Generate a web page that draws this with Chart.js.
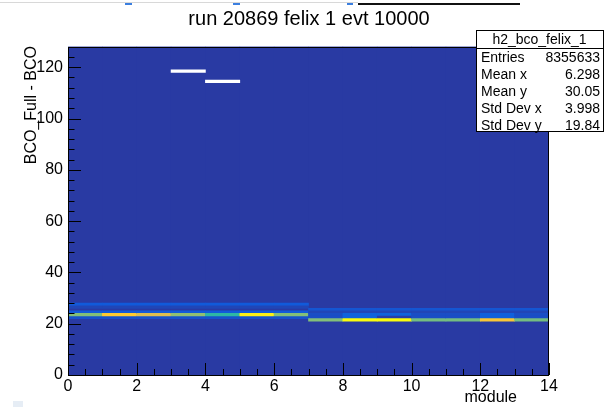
<!DOCTYPE html>
<html><head><meta charset="utf-8">
<script src="https://cdn.jsdelivr.net/npm/chart.js@4/dist/chart.umd.min.js"></script>
<style>html,body{margin:0;padding:0;background:#fff;}#wrap{position:relative;width:608px;height:407px;}</style>
</head><body><div id="wrap"><canvas id="c" width="608" height="407"></canvas></div>
<script>
// ---- data ----
const modules = [0,1,2,3,4,5,6,7,8,9,10,11,12,13];
const yMaxBin = 128;
const backgroundLevel = 0.04;
const modulesA = [0,1,2,3,4,5,6];
const modulesB = [7,8,9,10,11,12,13];
const peakBinA = 23;
const peakLevelsA = [0.62,0.88,0.78,0.64,0.50,0.97,0.62];
const peakBinB = 21;
const peakLevelsB = [0.62,1.00,1.00,0.60,0.60,0.86,0.60];
const sideBinsA = [27,26,24,22];
const sideLevelsA = [0.12,0.07,0.12,0.10];
const sideBinsB = [25,24];
const sideLevelsB = [0.11,0.07];
const nearLevelsB23 = [0.09,0.15,0.15,0.09,0.09,0.14,0.09];
const nearLevelsB22 = [0.09,0.15,0.05,0.09,0.09,0.14,0.09];
const emptyModules = [3,4];
const emptyBins = [118,114];
const xTickLabels = [0,2,4,6,8,10,12,14];
const yTickLabels = [0,20,40,60,80,100,120];
const statNames = ['Entries','Mean x','Mean y','Std Dev x','Std Dev y'];
const statValues = ['8355633','6.298','30.05','3.998','19.84'];
const histName = 'h2_bco_felix_1';
const titleText = 'run 20869 felix 1 evt 10000';

// ---- palette (ROOT kBird) ----
const bird = [[53,42,135],[15,92,221],[20,129,214],[6,164,202],[46,183,164],[135,191,119],[209,187,89],[254,200,50],[249,251,14]];
function birdColor(z){
  const t = Math.max(0,Math.min(1,z))*8;
  const i = Math.min(7,Math.floor(t)); const f = t-i;
  const a = bird[i], b = bird[i+1];
  return 'rgb('+[0,1,2].map(k=>Math.round(a[k]+(b[k]-a[k])*f)).join(',')+')';
}

// ---- cells ----
const cells = [];
function addCell(m,bin,z){ cells.push({x:m+0.5, y:[bin,bin+1], z:z}); }
modulesA.forEach((m,i)=>{
  sideBinsA.forEach((b,j)=>addCell(m,b,sideLevelsA[j]));
  addCell(m,peakBinA,peakLevelsA[i]);
});
modulesB.forEach((m,i)=>{
  sideBinsB.forEach((b,j)=>addCell(m,b,sideLevelsB[j]));
  addCell(m,23,nearLevelsB23[i]);
  addCell(m,22,nearLevelsB22[i]);
  addCell(m,peakBinB,peakLevelsB[i]);
});

const decor = {
  id:'decor',
  beforeDatasetsDraw(chart){
    const ctx = chart.ctx, a = chart.chartArea;
    ctx.save();
    ctx.fillStyle = birdColor(backgroundLevel);
    ctx.fillRect(a.left, a.top, a.right-a.left, a.bottom-a.top);
    ctx.restore();
  },
  afterDraw(chart){
    const ctx = chart.ctx, a = chart.chartArea, xs = chart.scales.x, ys = chart.scales.y;
    ctx.save();
    // frame
    ctx.strokeStyle = '#000'; ctx.lineWidth = 1;
    ctx.strokeRect(Math.round(a.left)+0.5, Math.round(a.top)+0.5, Math.round(a.right-a.left)-1, Math.round(a.bottom-a.top));
    // inside ticks
    ctx.beginPath();
    for (let v=0; v<=yMaxBin; v+=4){
      const y = Math.round(ys.getPixelForValue(v))+0.5;
      const len = (v%20===0)?13:6.5;
      ctx.moveTo(a.left, y); ctx.lineTo(a.left+len, y);
    }
    for (let v=0; v<=14.001; v+=0.5){
      const x = Math.round(xs.getPixelForValue(v))+0.5;
      const len = (Math.abs(v%2)<1e-6)?12:6;
      ctx.moveTo(x, a.bottom); ctx.lineTo(x, a.bottom-len);
    }
    ctx.stroke();
    // axis titles
    ctx.fillStyle = '#000';
    ctx.font = '16px "Liberation Sans", Arial, sans-serif';
    ctx.textAlign = 'right'; ctx.textBaseline = 'middle';
    ctx.fillText('module', 517, 398);
    ctx.save();
    ctx.translate(32, 46); ctx.rotate(-Math.PI/2);
    ctx.textAlign = 'right'; ctx.fillText('BCO_Full - BCO', 0, 0);
    ctx.restore();
    // title
    ctx.font = '20px "Liberation Sans", Arial, sans-serif';
    ctx.textAlign = 'center'; ctx.textBaseline = 'middle';
    ctx.fillText(titleText, 309, 19);
    // stats box
    const bx = 476, by = 30, bw = 127, bh = 101;
    ctx.fillStyle = '#fff'; ctx.fillRect(bx, by, bw, bh);
    ctx.strokeStyle = '#000'; ctx.strokeRect(bx+0.5, by+0.5, bw, bh);
    ctx.beginPath(); ctx.moveTo(bx, by+18.5); ctx.lineTo(bx+bw, by+18.5); ctx.stroke();
    ctx.fillStyle = '#000';
    ctx.font = '14px "Liberation Sans", Arial, sans-serif';
    ctx.textAlign = 'center'; ctx.fillText(histName, bx+bw/2, by+10);
    statNames.forEach((n,i)=>{
      const y = by + 28.5 + i*16.8;
      ctx.textAlign = 'left'; ctx.fillText(n, bx+5, y);
      ctx.textAlign = 'right'; ctx.fillText(statValues[i], bx+bw-3, y);
    });
    // screenshot remnants
    ctx.fillStyle = '#d8d8d8'; ctx.fillRect(0, 2, 358, 1);
    ctx.fillStyle = '#111'; ctx.fillRect(358, 3, 162, 2);
    ctx.fillStyle = '#3b7fe0';
    [[125,7],[233,7],[347,6]].forEach(p=>ctx.fillRect(p[0], 3, p[1], 2));
    ctx.fillStyle = '#e6edf5'; ctx.fillRect(13, 401, 10, 6);
    ctx.restore();
  }
};

new Chart(document.getElementById('c'), {
  type: 'bar',
  data: {
    datasets: [
      { label:'cells', data: cells, backgroundColor: cells.map(c=>birdColor(c.z)), order:1 },
      { label:'empty', data: emptyModules.map((m,i)=>({x:m+0.5, y:[emptyBins[i], emptyBins[i]+1]})), backgroundColor:'#ffffff', order:2 },
      { label:'background', data: modules.map(m=>({x:m+0.5, y:[0,yMaxBin]})), backgroundColor: birdColor(backgroundLevel), order:3 }
    ]
  },
  options: {
    responsive:false, animation:false, events:[],
    layout:{ padding:{ left:0, right:59, top:46.7, bottom:0 } },
    datasets:{ bar:{ grouped:false, barPercentage:1, categoryPercentage:1, borderWidth:0 } },
    plugins:{ legend:{display:false}, title:{display:false}, tooltip:{enabled:false} },
    scales:{
      x:{ type:'linear', min:0, max:14, offset:false,
          afterFit(s){ s.height = 32; },
          afterBuildTicks(s){ s.ticks = xTickLabels.map(v=>({value:v})); },
          grid:{display:false, drawTicks:false, offset:false}, border:{display:false},
          ticks:{ color:'#000', padding:2, maxRotation:0, autoSkip:false, font:{family:'"Liberation Sans", Arial, sans-serif', size:16} } },
      y:{ type:'linear', min:0, max:yMaxBin,
          afterFit(s){ s.width = 68; },
          afterBuildTicks(s){ s.ticks = yTickLabels.map(v=>({value:v})); },
          grid:{display:false, drawTicks:false}, border:{display:false},
          ticks:{ color:'#000', padding:5, autoSkip:false, font:{family:'"Liberation Sans", Arial, sans-serif', size:16} } }
    }
  },
  plugins:[decor]
});
</script></body></html>
